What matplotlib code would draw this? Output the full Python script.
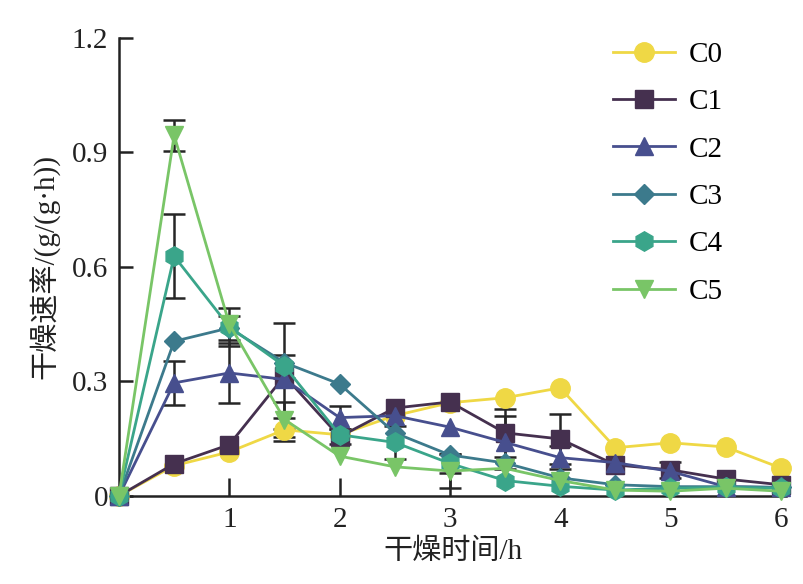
import matplotlib
matplotlib.use("Agg")
import matplotlib.pyplot as plt
import numpy as np

t = [0, 0.5, 1, 1.5, 2, 2.5, 3, 3.5, 4, 4.5, 5, 5.5, 6]
labels = ["C0", "C1", "C2", "C3", "C4", "C5"]
c0 = [0, 0.079, 0.115, 0.173, 0.160, 0.210, 0.244, 0.257, 0.283, 0.126, 0.139, 0.128, 0.073]
c1 = [0, 0.084, 0.134, 0.314, 0.155, 0.230, 0.246, 0.165, 0.149, 0.081, 0.068, 0.044, 0.029]
c2 = [0, 0.296, 0.322, 0.305, 0.205, 0.210, 0.180, 0.140, 0.100, 0.087, 0.064, 0.024, 0.022]
c3 = [0, 0.405, 0.440, 0.349, 0.293, 0.165, 0.107, 0.086, 0.047, 0.029, 0.024, 0.024, 0.022]
c4 = [0, 0.628, 0.443, 0.340, 0.160, 0.140, 0.085, 0.040, 0.025, 0.015, 0.020, 0.022, 0.020]
c5 = [0, 0.945, 0.450, 0.200, 0.104, 0.076, 0.065, 0.072, 0.040, 0.015, 0.012, 0.020, 0.012]
e0 = [0, 0, 0, 0.030, 0, 0, 0, 0, 0, 0, 0, 0, 0]
e1 = [0, 0, 0, 0.140, 0.020, 0, 0, 0.063, 0.065, 0, 0.020, 0, 0]
e2 = [0, 0.058, 0.078, 0, 0.030, 0, 0, 0.070, 0.030, 0, 0, 0, 0]
e3 = [0, 0, 0.032, 0, 0, 0, 0, 0, 0, 0, 0, 0, 0]
e4 = [0, 0.110, 0.050, 0.030, 0, 0.043, 0.025, 0, 0, 0, 0, 0, 0]
e5 = [0, 0.040, 0, 0.045, 0, 0, 0.045, 0, 0, 0, 0, 0, 0]
series = [c0, c1, c2, c3, c4, c5]
errs = [e0, e1, e2, e3, e4, e5]
colors = ["#efd845", "#45304f", "#474f8e", "#3c7a8c", "#3aa58a", "#79c567"]
markers = ["o", "s", "^", "D", "h", "v"]
msizes = [14, 13, 13, 10, 14, 13]

serif = ["Liberation Serif", "Noto Sans CJK SC"]
plt.rcParams["font.family"] = serif
FS = 21
plt.rcParams["font.size"] = FS

fig = plt.figure(figsize=(8.04, 5.84), dpi=100)
ax = fig.add_axes([0.148, 0.151, 0.83, 0.784])

for y, e, c, m, ms, lab in zip(series, errs, colors, markers, msizes, labels):
    ax.plot(t, y, color=c, marker=m, markersize=ms, lw=2.0, label=lab,
            clip_on=False, zorder=3)
    yy = np.array(y)
    ee = np.array(e)
    mask = ee > 0
    ax.errorbar(np.array(t)[mask], yy[mask], yerr=ee[mask], fmt="none",
                ecolor="#262626", elinewidth=1.8, capsize=8, capthick=1.8,
                zorder=2.5)

ax.set_xlim(0, 6.05)
ax.set_ylim(0, 1.2)
ax.set_xticks([1, 2, 3, 4, 5, 6])
ax.set_yticks([0, 0.3, 0.6, 0.9, 1.2])
ax.set_yticklabels(["0", "0.3", "0.6", "0.9", "1.2"])
ax.spines["top"].set_visible(False)
ax.spines["right"].set_visible(False)
for s in ("left", "bottom"):
    ax.spines[s].set_linewidth(1.8)
    ax.spines[s].set_color("#222222")
ax.tick_params(axis="y", direction="in", length=10, width=1.8, colors="#222222",
               labelsize=FS, pad=8)
ax.tick_params(axis="x", direction="in", length=13, width=1.8, colors="#222222",
               labelsize=FS, pad=8)

ax.set_xlabel("干燥时间/h", fontsize=FS, color="#222222", labelpad=4)
ax.set_ylabel("干燥速率/(g/(g·h))", fontsize=FS, color="#222222", labelpad=8)

leg = ax.legend(loc="upper right", bbox_to_anchor=(0.945, 1.05), frameon=False,
                fontsize=FS, handlelength=2.1, labelspacing=0.72, handletextpad=0.5)

fig.savefig("out.png", dpi=100)
